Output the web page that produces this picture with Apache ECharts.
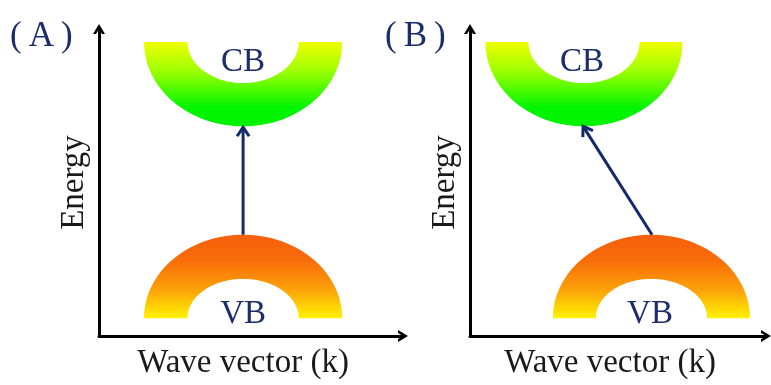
<!DOCTYPE html>
<html><head><meta charset="utf-8">
<script src="https://cdn.jsdelivr.net/npm/echarts@6/dist/echarts.min.js"></script>
<style>html,body{margin:0;padding:0;background:#fff}#c{width:771px;height:385px}</style>
</head><body><div id="c"></div>
<script>
// ---- data (axis units: k 0-10, Energy 0-10) ----
const panelLabels = ['(\u2009A\u2009)', '(\u2009B\u2009)'];
const xAxisName = 'Wave vector (k)';
const yAxisName = 'Energy';
const bandLabels = ['CB', 'VB'];
const cbCenterK = [4.74, 3.85];
const vbCenterK = [4.74, 6.13];
const outerHalfWidth = [3.26, 3.33];
const innerHalfWidth = [1.83, 1.88];
const cbTopE = [9.58, 9.58];
const cbOuterBottomE = [6.83, 6.83];
const cbInnerBottomE = [8.24, 8.24];
const vbBaseE = [0.58, 0.58];
const vbOuterTopE = [3.30, 3.30];
const vbInnerTopE = [1.86, 1.86];
const transitionFrom = [[4.74, 3.30], [6.15, 3.30]];
const transitionTo = [[4.74, 6.80], [3.82, 6.83]];
const cbLabelPos = [[4.74, 8.93], [3.78, 8.93]];
const vbLabelPos = [[4.74, 0.69], [6.08, 0.69]];

// ---- styles ----
const serif = 'Liberation Serif, Times New Roman, serif';
const navy = '#1b2d6b';
const arrowColor = '#15296a';
const chevron = 'path://M0,10 L6,0 L12,10 L9,10 L6,5 L3,10 Z';

const chart = echarts.init(document.getElementById('c'), null, {renderer: 'canvas'});

function bandRender(params, api) {
  const c = api.value(0), base = api.value(1), outerEdge = api.value(2), innerEdge = api.value(3);
  const ro = api.value(4), ri = api.value(5), kind = api.value(6);
  const N = 72, pts = [];
  for (let i = 0; i <= N; i++) {
    const t = Math.PI * i / N;
    pts.push(api.coord([c - ro * Math.cos(t), base + (outerEdge - base) * Math.sin(t)]));
  }
  for (let i = 0; i <= N; i++) {
    const t = Math.PI * i / N;
    pts.push(api.coord([c + ri * Math.cos(t), base + (innerEdge - base) * Math.sin(t)]));
  }
  const stops = kind === 0
    ? [{offset: 0, color: '#f0ff00'}, {offset: 0.35, color: '#9cff00'}, {offset: 0.78, color: '#00f500'}, {offset: 1, color: '#00f200'}]
    : [{offset: 0, color: '#f5600c'}, {offset: 0.3, color: '#f86c0a'}, {offset: 0.65, color: '#fca00a'}, {offset: 1, color: '#fff200'}];
  return {
    type: 'polygon',
    shape: {points: pts},
    style: {fill: new echarts.graphic.LinearGradient(0, 0, 0, 1, stops), stroke: null}
  };
}

function arrowRender(params, api) {
  const p0 = api.coord([api.value(0), api.value(1)]);
  const p1 = api.coord([api.value(2), api.value(3)]);
  const dx = p1[0] - p0[0], dy = p1[1] - p0[1];
  const L = Math.sqrt(dx * dx + dy * dy);
  const ux = dx / L, uy = dy / L, nx = -uy, ny = ux;
  const h = 9, w = 6;
  const a = [p1[0] - ux * h + nx * w, p1[1] - uy * h + ny * w];
  const b = [p1[0] - ux * h - nx * w, p1[1] - uy * h - ny * w];
  const st = {stroke: arrowColor, lineWidth: 3, fill: null};
  return {
    type: 'group',
    children: [
      {type: 'line', shape: {x1: p0[0], y1: p0[1], x2: p1[0] - ux, y2: p1[1] - uy}, style: st},
      {type: 'polyline', shape: {points: [a, p1, b]}, style: Object.assign({lineJoin: 'miter'}, st)}
    ]
  };
}

function labelRender(params, api) {
  const p = api.coord([api.value(0), api.value(1)]);
  return {
    type: 'text', x: p[0], y: p[1],
    style: {text: bandLabels[api.value(2)], fill: navy, font: '33px ' + serif, align: 'center', verticalAlign: 'middle'}
  };
}

const grids = [
  {left: 99, top: 29, width: 304, height: 312},
  {left: 470, top: 29, width: 296, height: 312}
];

const axisLine = {
  show: true,
  symbol: ['none', chevron],
  symbolSize: [12, 10],
  symbolOffset: [0, 0],
  lineStyle: {color: '#000', width: 3}
};

const xAxes = [0, 1].map(i => ({
  type: 'value', gridIndex: i, min: 0, max: 10,
  axisLine: axisLine, axisTick: {show: false}, axisLabel: {show: false}, splitLine: {show: false},
  name: xAxisName, nameLocation: 'middle', nameGap: 11,
  nameTextStyle: {fontFamily: serif, fontSize: 33, color: '#1a1a1a', padding: [0, 16, 0, 0]}
}));
const yAxes = [0, 1].map(i => ({
  type: 'value', gridIndex: i, min: 0, max: 10,
  axisLine: axisLine, axisTick: {show: false}, axisLabel: {show: false}, splitLine: {show: false},
  name: yAxisName, nameLocation: 'middle', nameGap: 8, nameRotate: 90,
  nameTextStyle: {fontFamily: serif, fontSize: 33, color: '#1a1a1a'}
}));

const series = [];
[0, 1].forEach(i => {
  series.push({
    type: 'custom', xAxisIndex: i, yAxisIndex: i, clip: false, silent: true,
    renderItem: bandRender,
    data: [
      [cbCenterK[i], cbTopE[i], cbOuterBottomE[i], cbInnerBottomE[i], outerHalfWidth[i], innerHalfWidth[i], 0],
      [vbCenterK[i], vbBaseE[i], vbOuterTopE[i], vbInnerTopE[i], outerHalfWidth[i], innerHalfWidth[i], 1]
    ]
  });
  series.push({
    type: 'custom', xAxisIndex: i, yAxisIndex: i, clip: false, silent: true,
    renderItem: arrowRender,
    data: [[transitionFrom[i][0], transitionFrom[i][1], transitionTo[i][0], transitionTo[i][1]]]
  });
  series.push({
    type: 'custom', xAxisIndex: i, yAxisIndex: i, clip: false, silent: true,
    renderItem: labelRender,
    data: [[cbLabelPos[i][0], cbLabelPos[i][1], 0], [vbLabelPos[i][0], vbLabelPos[i][1], 1]]
  });
});

chart.setOption({
  animation: false,
  backgroundColor: '#fff',
  title: [
    {text: panelLabels[0], left: 10, top: 19, padding: 0, textStyle: {fontFamily: serif, fontSize: 35, fontWeight: 'normal', color: navy}},
    {text: panelLabels[1], left: 385, top: 19, padding: 0, textStyle: {fontFamily: serif, fontSize: 35, fontWeight: 'normal', color: navy}}
  ],
  grid: grids,
  xAxis: xAxes,
  yAxis: yAxes,
  series: series
});
</script>
</body></html>
